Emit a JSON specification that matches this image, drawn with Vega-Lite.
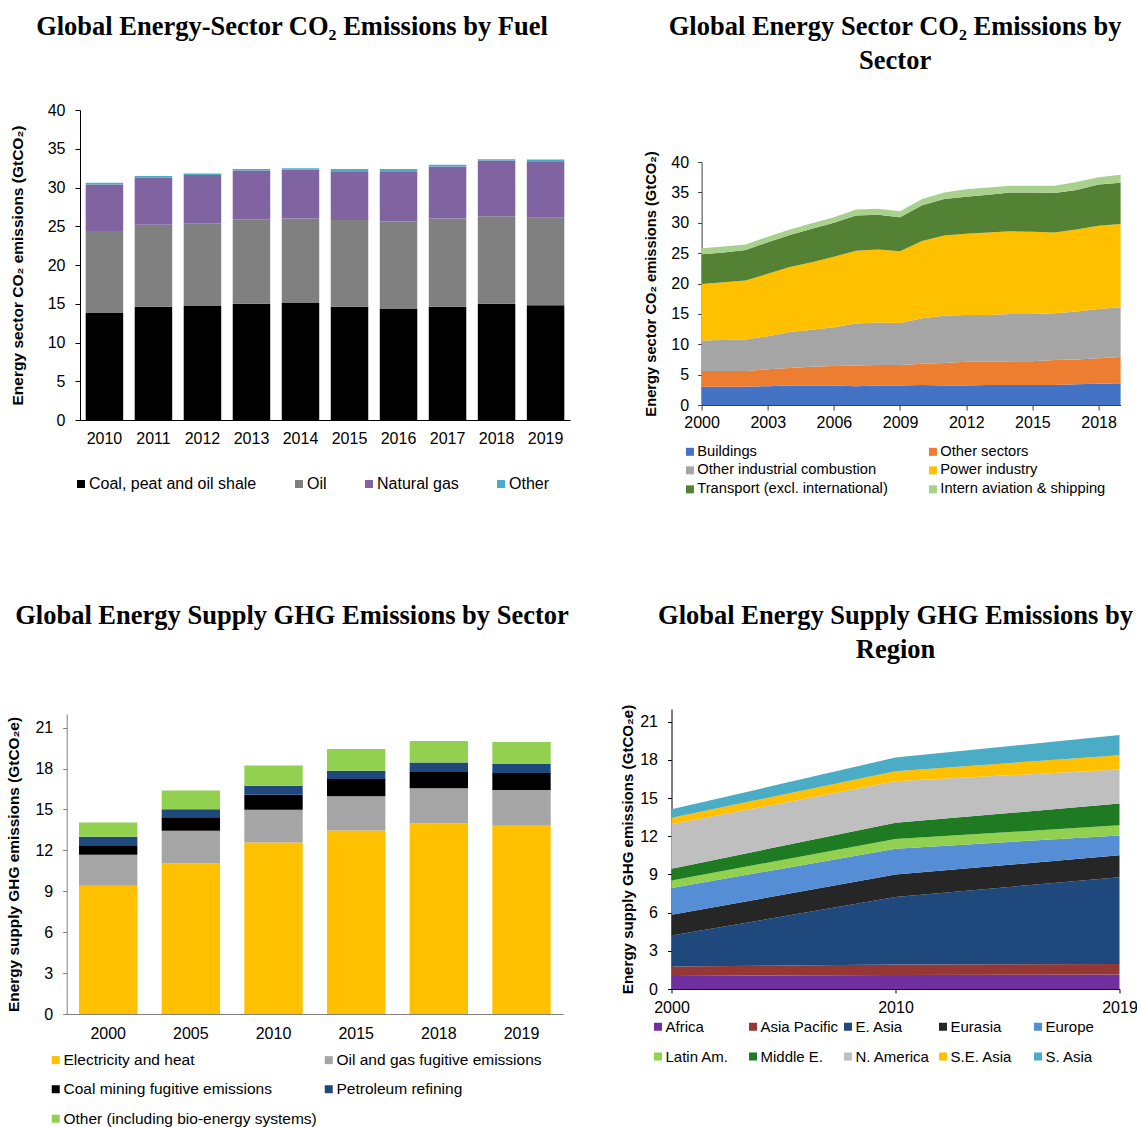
{
  "$schema": "https://vega.github.io/schema/vega-lite/v6.json",
  "padding": {"left": 6, "top": 13, "right": 0, "bottom": 0},
  "config": {
    "font": "Liberation Sans",
    "view": {"stroke": null},
    "axis": {"grid": false, "labelFont": "Liberation Sans", "labelFontSize": 16, "labelColor": "#000000", "titleFont": "Liberation Sans", "titleFontWeight": "bold", "titleColor": "#000000", "domainColor": "#404040", "tickColor": "#404040"},
    "title": {"font": "Liberation Serif", "fontSize": 26.5, "fontWeight": "bold", "color": "#000000", "lineHeight": 34},
    "legend": {"labelFont": "Liberation Sans", "labelColor": "#000000", "symbolType": "square", "symbolStrokeWidth": 0, "padding": 0, "symbolSize": 64, "labelOffset": 0, "labelLimit": 500, "direction": "horizontal"}
  },
  "datasets": {
    "fuelOrder": [{"fuel": "Coal, peat and oil shale", "o": 1}, {"fuel": "Oil", "o": 2}, {"fuel": "Natural gas", "o": 3}, {"fuel": "Other", "o": 4}],
    "sectorOrder": [{"sector": "Buildings", "o": 1}, {"sector": "Other sectors", "o": 2}, {"sector": "Other industrial combustion", "o": 3}, {"sector": "Power industry", "o": 4}, {"sector": "Transport (excl. international)", "o": 5}, {"sector": "Intern aviation & shipping", "o": 6}],
    "sourceOrder": [{"source": "Electricity and heat", "o": 1}, {"source": "Oil and gas fugitive emissions", "o": 2}, {"source": "Coal mining fugitive emissions", "o": 3}, {"source": "Petroleum refining", "o": 4}, {"source": "Other (including bio-energy systems)", "o": 5}],
    "regionOrder": [{"region": "Africa", "o": 1}, {"region": "Asia Pacific", "o": 2}, {"region": "E. Asia", "o": 3}, {"region": "Eurasia", "o": 4}, {"region": "Europe", "o": 5}, {"region": "Latin Am.", "o": 6}, {"region": "Middle E.", "o": 7}, {"region": "N. America", "o": 8}, {"region": "S.E. Asia", "o": 9}, {"region": "S. Asia", "o": 10}],
    "fuel": [
      {"year": 2010, "fuel": "Coal, peat and oil shale", "v": 13.8}, {"year": 2010, "fuel": "Oil", "v": 10.6}, {"year": 2010, "fuel": "Natural gas", "v": 6.0}, {"year": 2010, "fuel": "Other", "v": 0.2},
      {"year": 2011, "fuel": "Coal, peat and oil shale", "v": 14.6}, {"year": 2011, "fuel": "Oil", "v": 10.6}, {"year": 2011, "fuel": "Natural gas", "v": 6.1}, {"year": 2011, "fuel": "Other", "v": 0.2},
      {"year": 2012, "fuel": "Coal, peat and oil shale", "v": 14.7}, {"year": 2012, "fuel": "Oil", "v": 10.7}, {"year": 2012, "fuel": "Natural gas", "v": 6.2}, {"year": 2012, "fuel": "Other", "v": 0.2},
      {"year": 2013, "fuel": "Coal, peat and oil shale", "v": 15.0}, {"year": 2013, "fuel": "Oil", "v": 10.9}, {"year": 2013, "fuel": "Natural gas", "v": 6.3}, {"year": 2013, "fuel": "Other", "v": 0.2},
      {"year": 2014, "fuel": "Coal, peat and oil shale", "v": 15.1}, {"year": 2014, "fuel": "Oil", "v": 10.9}, {"year": 2014, "fuel": "Natural gas", "v": 6.3}, {"year": 2014, "fuel": "Other", "v": 0.2},
      {"year": 2015, "fuel": "Coal, peat and oil shale", "v": 14.6}, {"year": 2015, "fuel": "Oil", "v": 11.2}, {"year": 2015, "fuel": "Natural gas", "v": 6.3}, {"year": 2015, "fuel": "Other", "v": 0.3},
      {"year": 2016, "fuel": "Coal, peat and oil shale", "v": 14.4}, {"year": 2016, "fuel": "Oil", "v": 11.2}, {"year": 2016, "fuel": "Natural gas", "v": 6.5}, {"year": 2016, "fuel": "Other", "v": 0.3},
      {"year": 2017, "fuel": "Coal, peat and oil shale", "v": 14.6}, {"year": 2017, "fuel": "Oil", "v": 11.4}, {"year": 2017, "fuel": "Natural gas", "v": 6.7}, {"year": 2017, "fuel": "Other", "v": 0.25},
      {"year": 2018, "fuel": "Coal, peat and oil shale", "v": 15.0}, {"year": 2018, "fuel": "Oil", "v": 11.3}, {"year": 2018, "fuel": "Natural gas", "v": 7.2}, {"year": 2018, "fuel": "Other", "v": 0.15},
      {"year": 2019, "fuel": "Coal, peat and oil shale", "v": 14.8}, {"year": 2019, "fuel": "Oil", "v": 11.3}, {"year": 2019, "fuel": "Natural gas", "v": 7.2}, {"year": 2019, "fuel": "Other", "v": 0.3}
    ],
    "sector": [
      {"year": 2000, "sector": "Buildings", "v": 3.0}, {"year": 2000, "sector": "Other sectors", "v": 2.6}, {"year": 2000, "sector": "Other industrial combustion", "v": 5.0}, {"year": 2000, "sector": "Power industry", "v": 9.3}, {"year": 2000, "sector": "Transport (excl. international)", "v": 4.9}, {"year": 2000, "sector": "Intern aviation & shipping", "v": 1.0},
      {"year": 2001, "sector": "Buildings", "v": 3.0}, {"year": 2001, "sector": "Other sectors", "v": 2.6}, {"year": 2001, "sector": "Other industrial combustion", "v": 5.1}, {"year": 2001, "sector": "Power industry", "v": 9.5}, {"year": 2001, "sector": "Transport (excl. international)", "v": 4.9}, {"year": 2001, "sector": "Intern aviation & shipping", "v": 1.0},
      {"year": 2002, "sector": "Buildings", "v": 3.0}, {"year": 2002, "sector": "Other sectors", "v": 2.6}, {"year": 2002, "sector": "Other industrial combustion", "v": 5.2}, {"year": 2002, "sector": "Power industry", "v": 9.7}, {"year": 2002, "sector": "Transport (excl. international)", "v": 5.0}, {"year": 2002, "sector": "Intern aviation & shipping", "v": 0.9},
      {"year": 2003, "sector": "Buildings", "v": 3.1}, {"year": 2003, "sector": "Other sectors", "v": 2.8}, {"year": 2003, "sector": "Other industrial combustion", "v": 5.4}, {"year": 2003, "sector": "Power industry", "v": 10.3}, {"year": 2003, "sector": "Transport (excl. international)", "v": 5.2}, {"year": 2003, "sector": "Intern aviation & shipping", "v": 0.9},
      {"year": 2004, "sector": "Buildings", "v": 3.2}, {"year": 2004, "sector": "Other sectors", "v": 2.9}, {"year": 2004, "sector": "Other industrial combustion", "v": 5.9}, {"year": 2004, "sector": "Power industry", "v": 10.7}, {"year": 2004, "sector": "Transport (excl. international)", "v": 5.3}, {"year": 2004, "sector": "Intern aviation & shipping", "v": 0.9},
      {"year": 2005, "sector": "Buildings", "v": 3.2}, {"year": 2005, "sector": "Other sectors", "v": 3.1}, {"year": 2005, "sector": "Other industrial combustion", "v": 6.1}, {"year": 2005, "sector": "Power industry", "v": 11.1}, {"year": 2005, "sector": "Transport (excl. international)", "v": 5.5}, {"year": 2005, "sector": "Intern aviation & shipping", "v": 0.9},
      {"year": 2006, "sector": "Buildings", "v": 3.2}, {"year": 2006, "sector": "Other sectors", "v": 3.2}, {"year": 2006, "sector": "Other industrial combustion", "v": 6.4}, {"year": 2006, "sector": "Power industry", "v": 11.6}, {"year": 2006, "sector": "Transport (excl. international)", "v": 5.6}, {"year": 2006, "sector": "Intern aviation & shipping", "v": 0.9},
      {"year": 2007, "sector": "Buildings", "v": 3.1}, {"year": 2007, "sector": "Other sectors", "v": 3.4}, {"year": 2007, "sector": "Other industrial combustion", "v": 6.9}, {"year": 2007, "sector": "Power industry", "v": 12.0}, {"year": 2007, "sector": "Transport (excl. international)", "v": 5.8}, {"year": 2007, "sector": "Intern aviation & shipping", "v": 1.0},
      {"year": 2008, "sector": "Buildings", "v": 3.2}, {"year": 2008, "sector": "Other sectors", "v": 3.4}, {"year": 2008, "sector": "Other industrial combustion", "v": 7.0}, {"year": 2008, "sector": "Power industry", "v": 12.0}, {"year": 2008, "sector": "Transport (excl. international)", "v": 5.7}, {"year": 2008, "sector": "Intern aviation & shipping", "v": 1.0},
      {"year": 2009, "sector": "Buildings", "v": 3.2}, {"year": 2009, "sector": "Other sectors", "v": 3.4}, {"year": 2009, "sector": "Other industrial combustion", "v": 6.9}, {"year": 2009, "sector": "Power industry", "v": 11.8}, {"year": 2009, "sector": "Transport (excl. international)", "v": 5.6}, {"year": 2009, "sector": "Intern aviation & shipping", "v": 1.0},
      {"year": 2010, "sector": "Buildings", "v": 3.3}, {"year": 2010, "sector": "Other sectors", "v": 3.5}, {"year": 2010, "sector": "Other industrial combustion", "v": 7.5}, {"year": 2010, "sector": "Power industry", "v": 12.7}, {"year": 2010, "sector": "Transport (excl. international)", "v": 5.9}, {"year": 2010, "sector": "Intern aviation & shipping", "v": 1.0},
      {"year": 2011, "sector": "Buildings", "v": 3.2}, {"year": 2011, "sector": "Other sectors", "v": 3.7}, {"year": 2011, "sector": "Other industrial combustion", "v": 7.8}, {"year": 2011, "sector": "Power industry", "v": 13.2}, {"year": 2011, "sector": "Transport (excl. international)", "v": 6.0}, {"year": 2011, "sector": "Intern aviation & shipping", "v": 1.1},
      {"year": 2012, "sector": "Buildings", "v": 3.2}, {"year": 2012, "sector": "Other sectors", "v": 3.9}, {"year": 2012, "sector": "Other industrial combustion", "v": 7.7}, {"year": 2012, "sector": "Power industry", "v": 13.4}, {"year": 2012, "sector": "Transport (excl. international)", "v": 6.1}, {"year": 2012, "sector": "Intern aviation & shipping", "v": 1.2},
      {"year": 2013, "sector": "Buildings", "v": 3.3}, {"year": 2013, "sector": "Other sectors", "v": 3.8}, {"year": 2013, "sector": "Other industrial combustion", "v": 7.7}, {"year": 2013, "sector": "Power industry", "v": 13.6}, {"year": 2013, "sector": "Transport (excl. international)", "v": 6.2}, {"year": 2013, "sector": "Intern aviation & shipping", "v": 1.2},
      {"year": 2014, "sector": "Buildings", "v": 3.3}, {"year": 2014, "sector": "Other sectors", "v": 3.9}, {"year": 2014, "sector": "Other industrial combustion", "v": 7.8}, {"year": 2014, "sector": "Power industry", "v": 13.6}, {"year": 2014, "sector": "Transport (excl. international)", "v": 6.4}, {"year": 2014, "sector": "Intern aviation & shipping", "v": 1.1},
      {"year": 2015, "sector": "Buildings", "v": 3.3}, {"year": 2015, "sector": "Other sectors", "v": 3.9}, {"year": 2015, "sector": "Other industrial combustion", "v": 7.8}, {"year": 2015, "sector": "Power industry", "v": 13.5}, {"year": 2015, "sector": "Transport (excl. international)", "v": 6.5}, {"year": 2015, "sector": "Intern aviation & shipping", "v": 1.1},
      {"year": 2016, "sector": "Buildings", "v": 3.3}, {"year": 2016, "sector": "Other sectors", "v": 4.1}, {"year": 2016, "sector": "Other industrial combustion", "v": 7.7}, {"year": 2016, "sector": "Power industry", "v": 13.3}, {"year": 2016, "sector": "Transport (excl. international)", "v": 6.5}, {"year": 2016, "sector": "Intern aviation & shipping", "v": 1.2},
      {"year": 2017, "sector": "Buildings", "v": 3.4}, {"year": 2017, "sector": "Other sectors", "v": 4.1}, {"year": 2017, "sector": "Other industrial combustion", "v": 7.9}, {"year": 2017, "sector": "Power industry", "v": 13.5}, {"year": 2017, "sector": "Transport (excl. international)", "v": 6.5}, {"year": 2017, "sector": "Intern aviation & shipping", "v": 1.3},
      {"year": 2018, "sector": "Buildings", "v": 3.5}, {"year": 2018, "sector": "Other sectors", "v": 4.2}, {"year": 2018, "sector": "Other industrial combustion", "v": 8.1}, {"year": 2018, "sector": "Power industry", "v": 13.7}, {"year": 2018, "sector": "Transport (excl. international)", "v": 6.8}, {"year": 2018, "sector": "Intern aviation & shipping", "v": 1.2},
      {"year": 2019, "sector": "Buildings", "v": 3.6}, {"year": 2019, "sector": "Other sectors", "v": 4.3}, {"year": 2019, "sector": "Other industrial combustion", "v": 8.2}, {"year": 2019, "sector": "Power industry", "v": 13.7}, {"year": 2019, "sector": "Transport (excl. international)", "v": 6.8}, {"year": 2019, "sector": "Intern aviation & shipping", "v": 1.3}
    ],
    "supply": [
      {"year": 2000, "source": "Electricity and heat", "v": 9.4}, {"year": 2000, "source": "Oil and gas fugitive emissions", "v": 2.27}, {"year": 2000, "source": "Coal mining fugitive emissions", "v": 0.71}, {"year": 2000, "source": "Petroleum refining", "v": 0.62}, {"year": 2000, "source": "Other (including bio-energy systems)", "v": 1.04},
      {"year": 2005, "source": "Electricity and heat", "v": 11.06}, {"year": 2005, "source": "Oil and gas fugitive emissions", "v": 2.37}, {"year": 2005, "source": "Coal mining fugitive emissions", "v": 1.0}, {"year": 2005, "source": "Petroleum refining", "v": 0.59}, {"year": 2005, "source": "Other (including bio-energy systems)", "v": 1.37},
      {"year": 2010, "source": "Electricity and heat", "v": 12.58}, {"year": 2010, "source": "Oil and gas fugitive emissions", "v": 2.39}, {"year": 2010, "source": "Coal mining fugitive emissions", "v": 1.1}, {"year": 2010, "source": "Petroleum refining", "v": 0.66}, {"year": 2010, "source": "Other (including bio-energy systems)", "v": 1.49},
      {"year": 2015, "source": "Electricity and heat", "v": 13.46}, {"year": 2015, "source": "Oil and gas fugitive emissions", "v": 2.51}, {"year": 2015, "source": "Coal mining fugitive emissions", "v": 1.27}, {"year": 2015, "source": "Petroleum refining", "v": 0.59}, {"year": 2015, "source": "Other (including bio-energy systems)", "v": 1.61},
      {"year": 2018, "source": "Electricity and heat", "v": 13.97}, {"year": 2018, "source": "Oil and gas fugitive emissions", "v": 2.59}, {"year": 2018, "source": "Coal mining fugitive emissions", "v": 1.19}, {"year": 2018, "source": "Petroleum refining", "v": 0.69}, {"year": 2018, "source": "Other (including bio-energy systems)", "v": 1.58},
      {"year": 2019, "source": "Electricity and heat", "v": 13.8}, {"year": 2019, "source": "Oil and gas fugitive emissions", "v": 2.63}, {"year": 2019, "source": "Coal mining fugitive emissions", "v": 1.25}, {"year": 2019, "source": "Petroleum refining", "v": 0.66}, {"year": 2019, "source": "Other (including bio-energy systems)", "v": 1.61}
    ],
    "region": [
      {"year": "2000", "region": "Africa", "v": 1.02}, {"year": "2000", "region": "Asia Pacific", "v": 0.74}, {"year": "2000", "region": "E. Asia", "v": 2.44}, {"year": "2000", "region": "Eurasia", "v": 1.63}, {"year": "2000", "region": "Europe", "v": 2.1}, {"year": "2000", "region": "Latin Am.", "v": 0.6}, {"year": "2000", "region": "Middle E.", "v": 0.92}, {"year": "2000", "region": "N. America", "v": 3.49}, {"year": "2000", "region": "S.E. Asia", "v": 0.52}, {"year": "2000", "region": "S. Asia", "v": 0.66},
      {"year": "2010", "region": "Africa", "v": 1.1}, {"year": "2010", "region": "Asia Pacific", "v": 0.82}, {"year": "2010", "region": "E. Asia", "v": 5.3}, {"year": "2010", "region": "Eurasia", "v": 1.78}, {"year": "2010", "region": "Europe", "v": 2.02}, {"year": "2010", "region": "Latin Am.", "v": 0.76}, {"year": "2010", "region": "Middle E.", "v": 1.29}, {"year": "2010", "region": "N. America", "v": 3.26}, {"year": "2010", "region": "S.E. Asia", "v": 0.78}, {"year": "2010", "region": "S. Asia", "v": 1.08},
      {"year": "2019", "region": "Africa", "v": 1.13}, {"year": "2019", "region": "Asia Pacific", "v": 0.84}, {"year": "2019", "region": "E. Asia", "v": 6.82}, {"year": "2019", "region": "Eurasia", "v": 1.71}, {"year": "2019", "region": "Europe", "v": 1.57}, {"year": "2019", "region": "Latin Am.", "v": 0.79}, {"year": "2019", "region": "Middle E.", "v": 1.71}, {"year": "2019", "region": "N. America", "v": 2.67}, {"year": "2019", "region": "S.E. Asia", "v": 1.13}, {"year": "2019", "region": "S. Asia", "v": 1.58}
    ]
  },
  "spacing": 105,
  "resolve": {"scale": {"color": "independent", "x": "independent", "y": "independent"}, "legend": {"color": "independent"}},
  "vconcat": [
    {
      "concat": [
        {
          "width": 490, "height": 310,
          "title": {"text": "Global Energy-Sector CO₂ Emissions by Fuel", "frame": "group", "dx": -33, "offset": 62},
          "data": {"name": "fuel"},
          "transform": [{"lookup": "fuel", "from": {"data": {"name": "fuelOrder"}, "key": "fuel", "fields": ["o"]}}],
          "mark": {"type": "bar"},
          "encoding": {
            "x": {"field": "year", "type": "ordinal", "scale": {"paddingInner": 0.235, "paddingOuter": 0.116}, "axis": {"title": null, "labelAngle": 0, "ticks": false, "labelPadding": 10, "domainColor": "#000000"}},
            "y": {"field": "v", "type": "quantitative", "stack": "zero", "scale": {"domain": [0, 40], "nice": false}, "axis": {"values": [0, 5, 10, 15, 20, 25, 30, 35, 40], "title": "Energy sector CO₂ emissions (GtCO₂)", "titleFontSize": 15.5, "titlePadding": 21.5, "tickSize": 5, "labelPadding": 10, "domainColor": "#000000", "tickColor": "#000000"}},
            "order": {"field": "o", "type": "quantitative", "sort": "ascending"},
            "color": {"field": "fuel", "type": "nominal", "scale": {"domain": ["Coal, peat and oil shale", "Oil", "Natural gas", "Other"], "range": ["#000000", "#808080", "#8064A2", "#4BACC6"]}, "legend": {"title": null, "orient": "none", "legendX": -7, "legendY": 366, "columns": 4, "columnPadding": 34, "labelFontSize": 16}}
          }
        },
        {
          "width": 419, "height": 295,
          "title": {"text": ["Global Energy Sector CO₂ Emissions by", "Sector"], "frame": "group", "dx": -16, "offset": 36},
          "data": {"name": "sector"},
          "transform": [{"lookup": "sector", "from": {"data": {"name": "sectorOrder"}, "key": "sector", "fields": ["o"]}}],
          "mark": {"type": "area"},
          "encoding": {
            "x": {"field": "year", "type": "quantitative", "scale": {"domain": [2000, 2019], "nice": false, "zero": false}, "axis": {"title": null, "values": [2000, 2003, 2006, 2009, 2012, 2015, 2018], "format": "d", "tickSize": 5, "labelPadding": 4, "labelFlush": false, "labelOverlap": false}},
            "y": {"field": "v", "type": "quantitative", "stack": "zero", "scale": {"domain": [0, 40], "nice": false, "range": [295, 52]}, "axis": {"values": [0, 5, 10, 15, 20, 25, 30, 35, 40], "title": "Energy sector CO₂ emissions (GtCO₂)", "titleFontSize": 14.7, "titlePadding": 12.5, "tickSize": 4, "labelPadding": 9}},
            "order": {"field": "o", "type": "quantitative", "sort": "ascending"},
            "color": {"field": "sector", "type": "nominal", "scale": {"domain": ["Buildings", "Other sectors", "Other industrial combustion", "Power industry", "Transport (excl. international)", "Intern aviation & shipping"], "range": ["#4472C4", "#ED7D31", "#A5A5A5", "#FFC000", "#548235", "#A9D18E"]}, "legend": {"title": null, "orient": "none", "legendX": -19, "legendY": 334, "columns": 2, "columnPadding": 37, "rowPadding": 3, "labelFontSize": 14.7, "gridAlign": "all"}}
          }
        }
      ],
      "columns": 2,
      "align": "none",
      "spacing": 72.6,
      "resolve": {"scale": {"color": "independent", "x": "independent", "y": "independent"}, "legend": {"color": "independent"}}
    },
    {
      "concat": [
        {
          "width": 483, "height": 305,
          "title": {"text": "Global Energy Supply GHG Emissions by Sector", "frame": "group", "dx": -29.5, "offset": 80},
          "data": {"name": "supply"},
          "transform": [{"lookup": "source", "from": {"data": {"name": "sourceOrder"}, "key": "source", "fields": ["o"]}}],
          "mark": {"type": "bar"},
          "encoding": {
            "x": {"field": "year", "type": "ordinal", "scale": {"paddingInner": 0.294, "paddingOuter": 0.149, "range": [-13.3, 483]}, "axis": {"title": null, "labelAngle": 0, "ticks": false, "labelPadding": 11, "domainColor": "#808080"}},
            "y": {"field": "v", "type": "quantitative", "stack": "zero", "scale": {"domain": [0, 22], "nice": false, "range": [305, 5]}, "axis": {"values": [0, 3, 6, 9, 12, 15, 18, 21], "title": "Energy supply GHG emissions (GtCO₂e)", "titleFontSize": 15.4, "titlePadding": 13.2, "tickSize": 4, "labelPadding": 10, "offset": 13.3, "domainColor": "#808080", "tickColor": "#808080"}},
            "order": {"field": "o", "type": "quantitative", "sort": "ascending"},
            "color": {"field": "source", "type": "nominal", "scale": {"domain": ["Electricity and heat", "Oil and gas fugitive emissions", "Coal mining fugitive emissions", "Petroleum refining", "Other (including bio-energy systems)"], "range": ["#FFC000", "#A5A5A5", "#000000", "#1F497D", "#92D050"]}, "legend": {"title": null, "orient": "none", "legendX": -32, "legendY": 343, "columns": 2, "columnPadding": 4, "rowPadding": 12.5, "labelFontSize": 15.5, "gridAlign": "all"}}
          }
        },
        {
          "width": 448, "height": 280,
          "title": {"text": ["Global Energy Supply GHG Emissions by", "Region"], "frame": "group", "offset": 41},
          "data": {"name": "region"},
          "transform": [{"lookup": "region", "from": {"data": {"name": "regionOrder"}, "key": "region", "fields": ["o"]}}],
          "mark": {"type": "area"},
          "encoding": {
            "x": {"field": "year", "type": "ordinal", "scale": {"type": "point", "padding": 0}, "axis": {"title": null, "labelAngle": 0, "tickSize": 4, "labelPadding": 6.5, "domainColor": "#000000", "tickColor": "#000000"}},
            "y": {"field": "v", "type": "quantitative", "stack": "zero", "scale": {"domain": [0, 22], "nice": false}, "axis": {"values": [0, 3, 6, 9, 12, 15, 18, 21], "title": "Energy supply GHG emissions (GtCO₂e)", "titleFontSize": 15.1, "titlePadding": 4.5, "tickSize": 4, "labelPadding": 10, "domainColor": "#000000", "tickColor": "#000000"}},
            "order": {"field": "o", "type": "quantitative", "sort": "ascending"},
            "color": {"field": "region", "type": "nominal", "scale": {"domain": ["Africa", "Asia Pacific", "E. Asia", "Eurasia", "Europe", "Latin Am.", "Middle E.", "N. America", "S.E. Asia", "S. Asia"], "range": ["#7030A0", "#953735", "#1F497D", "#262626", "#558ED5", "#92D050", "#1E7B22", "#BFBFBF", "#FFC000", "#4BACC6"]}, "legend": {"title": null, "orient": "none", "legendX": -21, "legendY": 310, "columns": 5, "columnPadding": 2, "rowPadding": 14, "labelFontSize": 15, "gridAlign": "all"}}
          }
        }
      ],
      "columns": 2,
      "align": "none",
      "spacing": 42.5,
      "resolve": {"scale": {"color": "independent", "x": "independent", "y": "independent"}, "legend": {"color": "independent"}}
    }
  ]
}
